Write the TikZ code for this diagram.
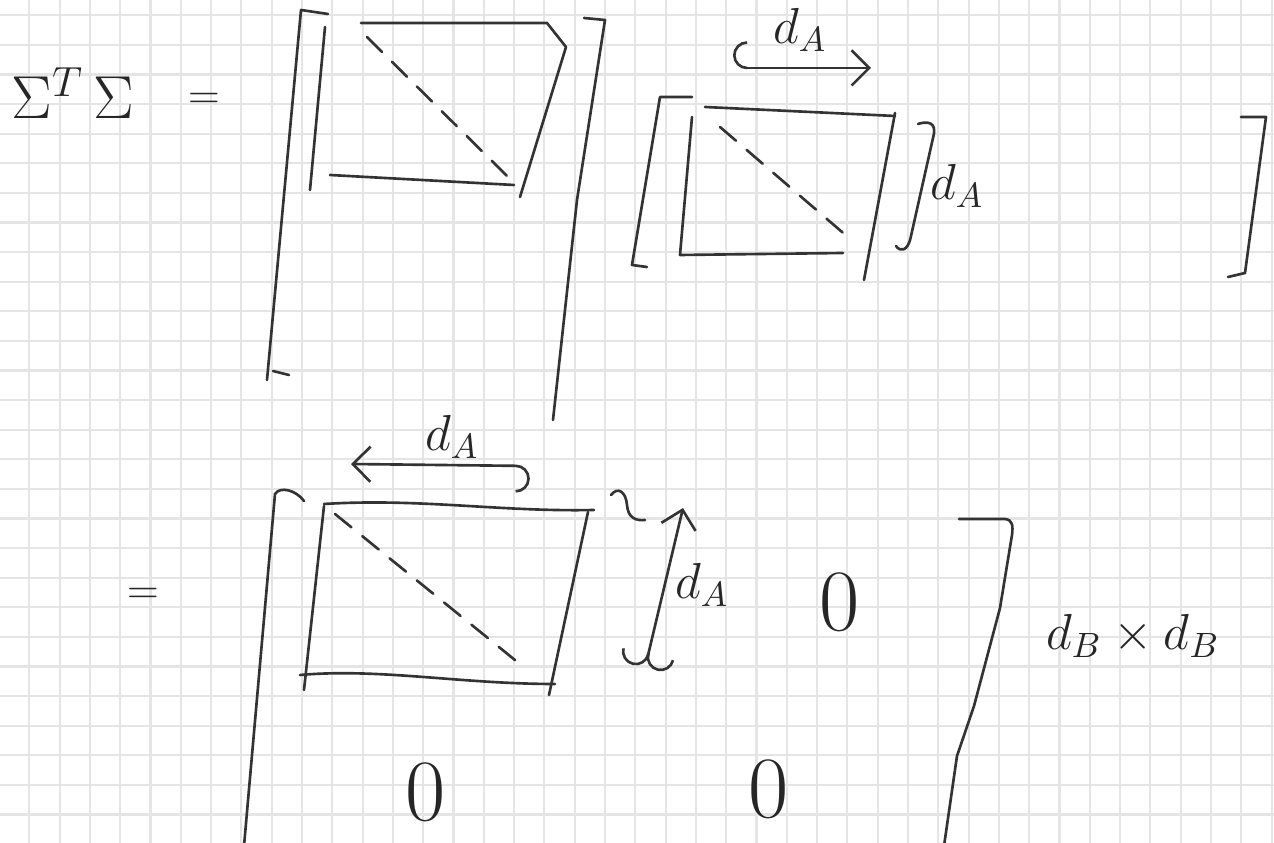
\documentclass[tikz,border=0pt]{standalone}
\usetikzlibrary{arrows.meta}
\tikzset{
  gridline/.style={black!10, line width=0.6pt},
  pen/.style={black!80, line width=0.75pt, line join=round, line cap=round},
  diag/.style={pen, dash pattern=on 6pt off 4pt},
  lbl/.style={black!85, inner sep=0pt, font=\Large},
  zero/.style={black!85, inner sep=0pt, font=\Huge},
}
\begin{document}
\begin{tikzpicture}[x=0.1mm, y=-0.1mm]
    \useasboundingbox (0,0) rectangle (1274,843);
    \fill[white] (0,0) rectangle (1274,843);
    \foreach \gx in {29.3,59.6,...,1274} \draw[gridline] (\gx,0) -- (\gx,843);
    \foreach \gy in {15.3,44.9,...,843} \draw[gridline] (0,\gy) -- (1274,\gy);

    \node[lbl, font=\LARGE] (sts) at (73,93) {$\Sigma^{T}\,\Sigma$};
    \node[lbl, font=\large] (eqtop) at (204,101) {$=$};

    % first factor
    \draw[pen] (328,14) -- (301,10) -- (267,380);
    \draw[pen] (273,371) -- (289,375);
    \draw[pen] (584,18) -- (605,20) -- (577,200) -- (553,420);
    \draw[pen] (325,27) -- (310,190);
    \draw[pen] (361,23) -- (547,23) -- (566,47) -- (520,197);
    \draw[pen] (330,175) -- (514,185);
    \draw[diag] (367,37) -- (508,177);

    % second factor
    \draw[pen] (692,97) -- (660,97) -- (632,265) -- (647,267);
    \draw[pen] (1241,117) -- (1266,117) -- (1245,273) -- (1228,277);
    \draw[pen] (705,107) -- (895,116);
    \draw[pen] (692,117) -- (680,255) -- (843,253);
    \draw[pen] (895,113) -- (864,280);
    \draw[diag] (720,127) -- (849,238);
    \coordinate (wt0) at (733,68);
    \coordinate (wt1) at (871,68);
    \draw[pen, {Hooks[right,length=4pt]}-{Straight Barb[length=5pt]}] (wt0) -- (wt1);
    \node[lbl] (dAtop) at (800,30) {$d_A$};
    \draw[pen] (918,124) .. controls (934,119) and (936,128) .. (933,138)
        -- (911,236) .. controls (908,252) and (900,252) .. (896,246);
    \node[lbl] (dAside) at (957,186) {$d_A$};

    % product
    \node[lbl, font=\large] (eqbot) at (143,596) {$=$};
    \draw[pen] (304,501) .. controls (296,490) and (280,486) .. (275,494) -- (244,846);
    \draw[pen] (959,519) -- (1005,519) .. controls (1013,520) and (1013,526) .. (1012,535)
        -- (1000,608) -- (974,706) -- (957,756) -- (944,846);
    \draw[pen] (324,504) .. controls (420,498) and (500,512) .. (594,510);
    \draw[pen] (324,506) -- (304,690);
    \draw[pen] (300,675) .. controls (380,668) and (460,684) .. (555,684);
    \draw[pen] (588,512) -- (549,695);
    \draw[diag] (335,514) -- (526,669);
    \coordinate (wb0) at (351,464);
    \coordinate (wb1) at (530,466);
    \draw[pen, {Straight Barb[length=5pt]}-{Hooks[right,length=4pt]}] (wb0) -- (wb1);
    \node[lbl] (dAbot) at (452,437) {$d_A$};
    \draw[pen] (611,495) .. controls (618,486) and (626,492) .. (627,505)
        .. controls (628,518) and (636,521) .. (645,520);
    \coordinate (hb0) at (645,668);
    \coordinate (hb1) at (683,508);
    \draw[pen, {Hooks[length=4pt]}-{Straight Barb[length=5pt]}] (hb0) -- (hb1);
    \node[lbl] (dAside2) at (702,585) {$d_A$};

    \node[zero] (zA) at (840,602) {$0$};
    \node[zero] (zB) at (426,792) {$0$};
    \node[zero] (zC) at (769,789) {$0$};
    \node[lbl] (dBdB) at (1133,636) {$d_B \times d_B$};
\end{tikzpicture}
\end{document}
